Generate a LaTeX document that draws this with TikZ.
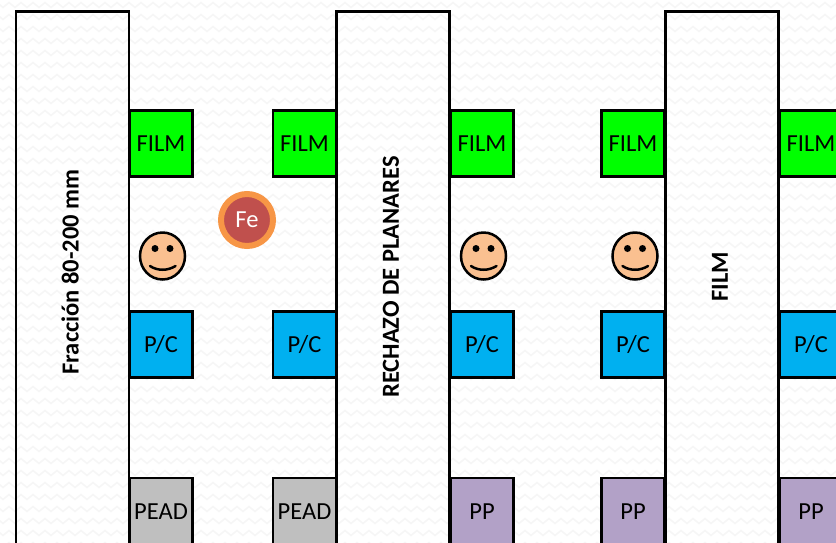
\documentclass[tikz,border=0pt]{standalone}
\usepackage{fontspec}
\setmainfont{Carlito}
\usetikzlibrary{shapes.geometric,decorations.pathmorphing}
\definecolor{verde}{HTML}{00FF00}
\definecolor{azul}{HTML}{00B0F0}
\definecolor{gris}{HTML}{BFBFBF}
\definecolor{lila}{HTML}{B2A1C7}
\definecolor{piel}{HTML}{FAC090}
\definecolor{rojo}{HTML}{C0504D}
\definecolor{naranja}{HTML}{F79646}
\definecolor{trama}{HTML}{F6F6F6}
\tikzset{
	barra/.style={draw, line width=2.5pt, minimum width=113pt, minimum height=600pt, anchor=north},
	rotulo/.style={rotate=90, font=\fontsize{24.5}{25}\selectfont\bfseries},
	caja/.style={draw, line width=2.5pt, minimum width=63pt, minimum height=66pt, inner sep=0pt, font=\fontsize{24.5}{25}\selectfont},
	film/.style={caja, fill=verde},
	pc/.style={caja, fill=azul},
	pead/.style={caja, fill=gris},
	pp/.style={caja, fill=lila},
	cara/.style={draw, ellipse, line width=2.5pt, fill=piel, minimum width=45pt, minimum height=47pt, inner sep=0pt},
	ojo/.style={circle, fill=black, minimum size=7pt, inner sep=0pt},
	pics/carita/.style={code={
		\node[cara] (-cara) at (0,0) {};
		\node[ojo] (-ojoa) at (-7.5,-7.5) {};
		\node[ojo] (-ojob) at (7.5,-7.5) {};
		\draw[line width=2.5pt, line cap=round] (-12.5,10) .. controls (-5,15) and (5,15) .. (13,10);
	}}
}
\begin{document}
\begin{tikzpicture}[x=1pt, y=-1pt]
	\useasboundingbox (0,0) rectangle (836,542);
	\clip (0,0) rectangle (836,542);
	\fill[white] (0,0) rectangle (836,542);
	\foreach \y in {5,17,...,545}
		\draw[trama, line width=1.5pt, decorate, decoration={zigzag, segment length=12pt, amplitude=2.5pt}] (-6,\y) -- (846,\y); % Trama del fondo.

	\node[barra] (bara) at (72.5,10) {};
	\node[barra] (barb) at (393,10) {};
	\node[barra] (barc) at (722,10) {};
	\node[rotulo] (fraccion) at (70,272) {Fracción 80-200 mm};
	\node[rotulo] (rechazo) at (391,277) {RECHAZO DE PLANARES};
	\node[rotulo] (filmc) at (720,277) {FILM};

	\node[film] (filma) at (161,143.5) {FILM};
	\node[film] (filmb) at (304.5,143.5) {FILM};
	\node[film] (filmd) at (482,143.5) {FILM};
	\node[film] (filme) at (633,143.5) {FILM};
	\node[film] (filmf) at (811,143.5) {FILM};

	\node[pc] (pca) at (161,344.5) {P/C};
	\node[pc] (pcb) at (304.5,344.5) {P/C};
	\node[pc] (pcd) at (482,344.5) {P/C};
	\node[pc] (pce) at (633,344.5) {P/C};
	\node[pc] (pcf) at (811,344.5) {P/C};

	\node[pead, text height=16pt, text depth=0pt] (peada) at (161,511) {PEAD};
	\node[pead, text height=16pt, text depth=0pt] (peadb) at (304.5,511) {PEAD};
	\node[pp, text height=16pt, text depth=0pt] (ppa) at (482,511) {PP};
	\node[pp, text height=16pt, text depth=0pt] (ppb) at (633,511) {PP};
	\node[pp, text height=16pt, text depth=0pt] (ppc) at (811,511) {PP};

	\pic (caraa) at (162.5,256) {carita};
	\pic (carab) at (483.5,256) {carita};
	\pic (carac) at (635,256) {carita};

	\node[circle, draw=naranja, line width=6pt, fill=rojo, minimum size=52pt, inner sep=0pt, text=white, font=\fontsize{24.5}{25}\selectfont] (fe) at (247,220) {Fe}; % Hierro.
\end{tikzpicture}
\end{document}
